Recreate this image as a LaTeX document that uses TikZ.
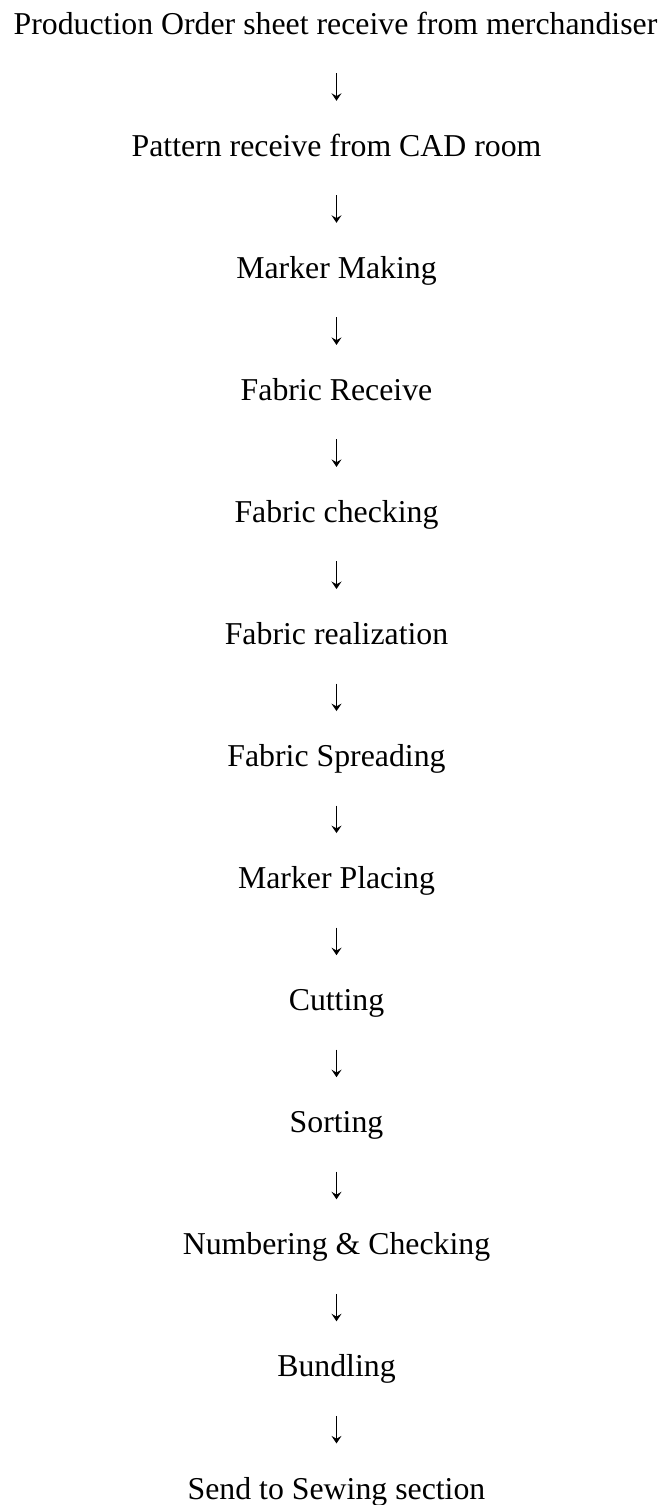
\documentclass[tikz,border=0pt]{standalone}
\usepackage{fontspec}
\setmainfont{Liberation Serif}
\usetikzlibrary{arrows.meta}
\tikzset{
  stage/.style={anchor=base, inner sep=0pt, text height=22.3pt, text depth=7.95pt,
    font=\fontsize{31.8pt}{38pt}\selectfont},
  flow/.style={line width=1.3pt, shorten <=30.75pt, shorten >=33.1pt,
    -{Stealth[length=7.5pt,width=10pt,inset=2.8pt]}}
}
\begin{document}
\begin{tikzpicture}[x=1pt,y=1pt]
\useasboundingbox (0,0) rectangle (665,-1505);
\def\cx{336.5}
\node[stage] (s1)  at (335.5,-34.3) {Production Order sheet receive from merchandiser};
\node[stage] (s2)  at (\cx,-156.4) {Pattern receive from CAD room};
\node[stage] (s3)  at (\cx,-278.4) {Marker Making};
\node[stage] (s4)  at (\cx,-400.5) {Fabric Receive};
\node[stage] (s5)  at (\cx,-522.5) {Fabric checking};
\node[stage] (s6)  at (\cx,-644.6) {Fabric realization};
\node[stage] (s7)  at (\cx,-766.7) {Fabric Spreading};
\node[stage] (s8)  at (\cx,-888.7) {Marker Placing};
\node[stage] (s9)  at (\cx,-1010.8) {Cutting};
\node[stage] (s10) at (\cx,-1132.8) {Sorting};
\node[stage] (s11) at (\cx,-1254.9) {Numbering \& Checking};
\node[stage] (s12) at (\cx,-1376.9) {Bundling};
\node[stage] (s13) at (\cx,-1499.0) {Send to Sewing section};
\foreach \a/\b in {s2/s3,s3/s4,s4/s5,s5/s6,s6/s7,s7/s8,s8/s9,s9/s10,s10/s11,s11/s12,s12/s13}
  \draw[flow] (\a.south) -- (\b.north);
\draw[flow] (s1.south -| s2.south) -- (s2.north);
\end{tikzpicture}
\end{document}
